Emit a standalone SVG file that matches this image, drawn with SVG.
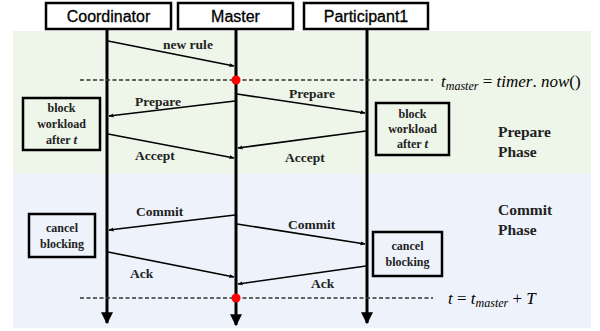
<svg xmlns="http://www.w3.org/2000/svg" width="600" height="331" viewBox="0 0 600 331">
<style>
.hdr{fill:#fff;stroke:#000;stroke-width:2.5}
.hdrt{font-family:"Liberation Sans",Arial,sans-serif;font-size:16px;font-weight:500;text-anchor:middle;fill:#000;stroke:#000;stroke-width:0.3}
.life{stroke:#000;stroke-width:3;fill:none}
.msg{stroke:#000;stroke-width:1.6;fill:none}
.lbl{font-family:"Liberation Serif","Times New Roman",serif;font-weight:bold;font-size:13.5px;fill:#222}
.box{fill:none;stroke:#000;stroke-width:2.5}
.bt{font-family:"Liberation Serif","Times New Roman",serif;font-weight:bold;font-size:12px;text-anchor:middle;fill:#222}
.phase{font-family:"Liberation Serif","Times New Roman",serif;font-weight:bold;font-size:15.5px;fill:#222}
.dash{stroke:#333;stroke-width:1.3;stroke-dasharray:4 2.5}
.math{font-family:"Liberation Serif","Times New Roman",serif;font-style:italic;font-size:17px;fill:#000}
.dot{fill:#ff0000}
</style>
<defs>
<marker id="ah" viewBox="0 0 10 10" refX="9" refY="5" markerWidth="5" markerHeight="5" orient="auto" markerUnits="userSpaceOnUse">
<path d="M0,1 L10,5 L0,9 z" fill="#000"/>
</marker>
<marker id="lh" viewBox="0 0 10 10" refX="9" refY="5" markerWidth="4" markerHeight="4" orient="auto" markerUnits="strokeWidth">
<path d="M0,0 L10,5 L0,10 z" fill="#000"/>
</marker>
</defs>
<g id="background">
<rect x="13" y="31" width="578" height="143" fill="#eef5e9"/>
<rect x="13" y="174" width="578" height="154" fill="#eef3fb"/>
</g>
<g id="Coordinator">
<rect class="hdr" x="46" y="3" width="125" height="26"/>
<text class="hdrt" x="108.5" y="22">Coordinator</text>
</g>
<g id="Master">
<rect class="hdr" x="178" y="3" width="115" height="26"/>
<text class="hdrt" x="235.5" y="22">Master</text>
</g>
<g id="Participant1">
<rect class="hdr" x="304" y="3" width="124" height="26"/>
<text class="hdrt" x="366" y="22">Participant1</text>
</g>
<g id="lifelines">
<line class="life" x1="107" y1="29" x2="107" y2="323" marker-end="url(#lh)"/>
<line class="life" x1="236" y1="29" x2="236" y2="325" marker-end="url(#lh)"/>
<line class="life" x1="367" y1="29" x2="367" y2="323" marker-end="url(#lh)"/>
</g>
<g id="timelines">
<line class="dash" x1="80" y1="80" x2="433" y2="80"/>
<line class="dash" x1="80" y1="298" x2="433" y2="298"/>
<circle class="dot" cx="236" cy="80" r="4.5"/>
<circle class="dot" cx="236" cy="298" r="4.5"/>
<text class="math" x="441" y="87">t<tspan font-size="12" dy="3">master</tspan><tspan dy="-3" font-style="normal"> = </tspan>timer<tspan font-style="normal">. </tspan>now<tspan font-style="normal">()</tspan></text>
<text class="math" x="448" y="304">t<tspan font-style="normal"> = </tspan>t<tspan font-size="12" dy="3">master</tspan><tspan dy="-3" font-style="normal"> + </tspan>T</text>
</g>
<g id="connectors">
<line class="msg" x1="108" y1="41" x2="234" y2="66" marker-end="url(#ah)"/>
<line class="msg" x1="235" y1="101" x2="109" y2="116" marker-end="url(#ah)"/>
<line class="msg" x1="237" y1="94" x2="365" y2="113" marker-end="url(#ah)"/>
<line class="msg" x1="108" y1="134" x2="234" y2="158" marker-end="url(#ah)"/>
<line class="msg" x1="366" y1="131" x2="238" y2="148" marker-end="url(#ah)"/>
<line class="msg" x1="235" y1="215" x2="109" y2="230" marker-end="url(#ah)"/>
<line class="msg" x1="237" y1="224" x2="365" y2="244" marker-end="url(#ah)"/>
<line class="msg" x1="108" y1="252" x2="234" y2="277" marker-end="url(#ah)"/>
<line class="msg" x1="366" y1="266" x2="238" y2="284" marker-end="url(#ah)"/>
</g>
<g id="labels">
<text class="lbl" x="163" y="49">new rule</text>
<text class="lbl" x="135" y="106">Prepare</text>
<text class="lbl" x="289" y="98">Prepare</text>
<text class="lbl" x="135" y="160">Accept</text>
<text class="lbl" x="285" y="162">Accept</text>
<text class="lbl" x="136" y="216">Commit</text>
<text class="lbl" x="288" y="229">Commit</text>
<text class="lbl" x="130" y="278">Ack</text>
<text class="lbl" x="311" y="288">Ack</text>
</g>
<g id="block-left">
<rect class="box" x="23" y="98" width="77" height="52"/>
<text class="bt" x="61.5" y="112">block</text>
<text class="bt" x="61.5" y="128">workload</text>
<text class="bt" x="61.5" y="144">after <tspan font-style="italic" font-size="13">t</tspan></text>
</g>
<g id="block-right">
<rect class="box" x="376" y="103" width="73" height="52"/>
<text class="bt" x="412.5" y="118">block</text>
<text class="bt" x="412.5" y="133">workload</text>
<text class="bt" x="412.5" y="148">after <tspan font-style="italic" font-size="13">t</tspan></text>
</g>
<g id="cancel-left">
<rect class="box" x="29" y="214" width="66" height="43"/>
<text class="bt" x="62" y="232">cancel</text>
<text class="bt" x="62" y="248">blocking</text>
</g>
<g id="cancel-right">
<rect class="box" x="373" y="232" width="69" height="44"/>
<text class="bt" x="407.5" y="250">cancel</text>
<text class="bt" x="407.5" y="266">blocking</text>
</g>
<g id="phases">
<text class="phase" x="498" y="137">Prepare</text>
<text class="phase" x="498" y="157">Phase</text>
<text class="phase" x="498" y="215">Commit</text>
<text class="phase" x="498" y="235">Phase</text>
</g>
</svg>
